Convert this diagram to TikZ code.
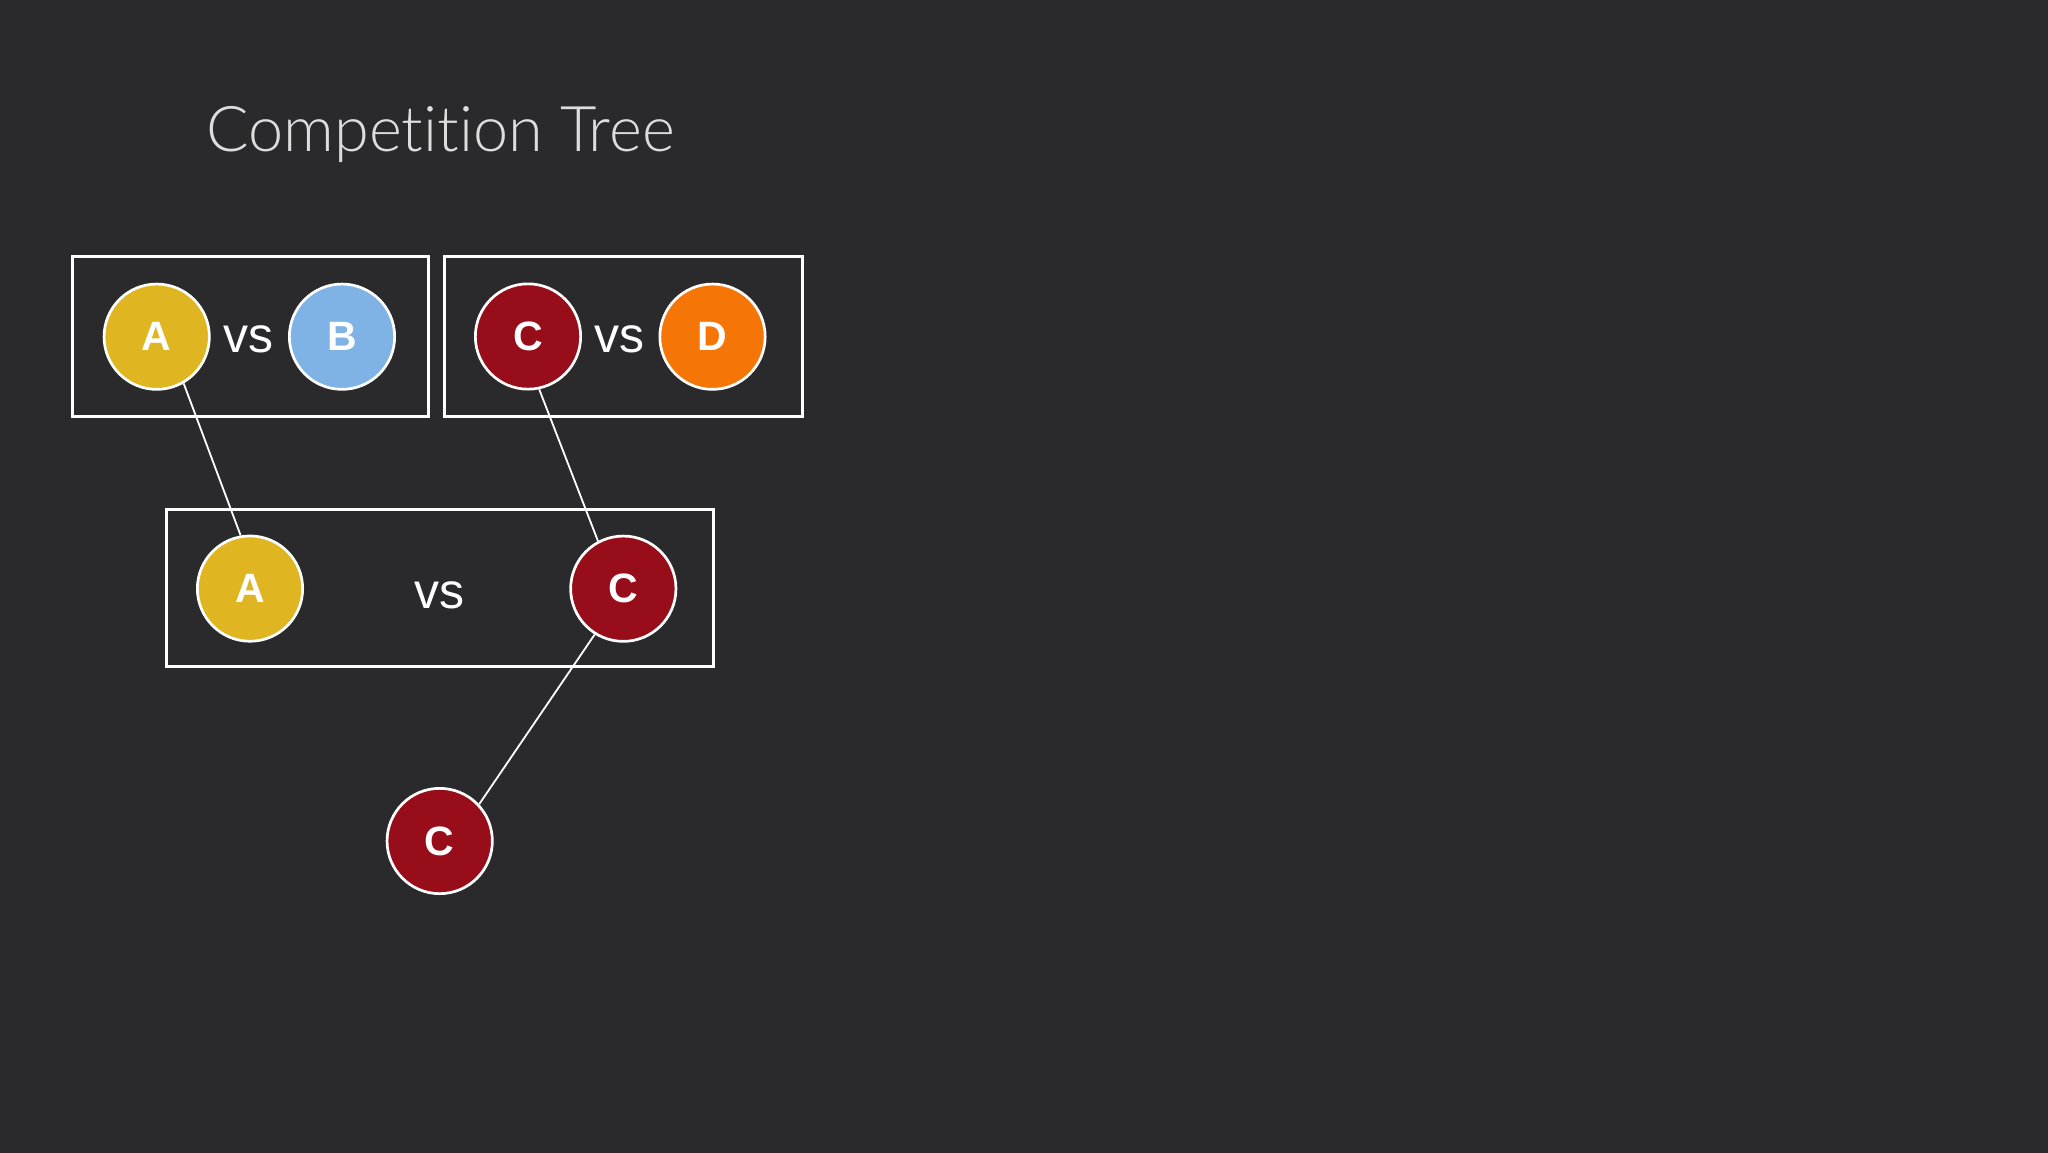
\documentclass[tikz,border=0pt]{standalone}
\usepackage{fontspec}
\setmainfont{Liberation Sans}
\newfontfamily\titlefont{Lato Light}[Ligatures=NoCommon]
\definecolor{bg}{HTML}{2A2A2C}
\definecolor{ayellow}{HTML}{DFB521}
\definecolor{bblue}{HTML}{7FB2E5}
\definecolor{cred}{HTML}{970D1A}
\definecolor{dorange}{HTML}{F57507}
\definecolor{titlegray}{HTML}{DDDDDD}
\tikzset{
  player/.style={circle, draw=white, line width=1.35pt, minimum size=52.65pt, inner sep=0pt,
    text=white, font=\bfseries\fontsize{20.5}{21}\selectfont},
  matchbox/.style={rectangle, draw=white, line width=1.5pt, inner sep=0pt},
  vslabel/.style={anchor=base, text=white, inner sep=0pt, font=\fontsize{25}{26}\selectfont},
  link/.style={draw=white, line width=0.9pt},
}
\begin{document}
\begin{tikzpicture}[x=0.5pt, y=-0.5pt]
\useasboundingbox (0,0) rectangle (2048,1152);
\fill[bg] (-20,-20) rectangle (2068,1172);
% title
\node[anchor=base west, inner sep=0pt, text=titlegray, font=\titlefont\fontsize{31.5}{32}\selectfont] (title) at (206,151) {Competition Tree};
% boxes
\node[matchbox, minimum width=178pt, minimum height=80pt] (box1) at (250,336.7) {};
\node[matchbox, minimum width=178.75pt, minimum height=80pt] (box2) at (623.25,336.7) {};
\node[matchbox, minimum width=273.5pt, minimum height=78.75pt] (box3) at (439.5,587.75) {};
% players
\node[player, fill=ayellow] (a1) at (156.7,336.7) {A};
\node[player, fill=bblue] (b1) at (342,336.7) {B};
\node[player, fill=cred] (c1) at (528,336.5) {C};
\node[player, fill=dorange] (d1) at (712.5,336.7) {D};
\node[player, fill=ayellow] (a2) at (250,588.6) {A};
\node[player, fill=cred] (c2) at (623.3,588.7) {C};
\node[player, fill=cred] (c3) at (439.7,841) {C};
% vs labels
\node[vslabel] (vs1) at (248.5,352) {vs};
\node[vslabel] (vs2) at (619.7,352) {vs};
\node[vslabel] (vs3) at (439,608.7) {vs};
% connectors
\draw[link] (a1.300) -- (a2.100);
\draw[link] (c1.282) -- (c2.118);
\draw[link] (c2.238) -- (c3.43);
\end{tikzpicture}
\end{document}
